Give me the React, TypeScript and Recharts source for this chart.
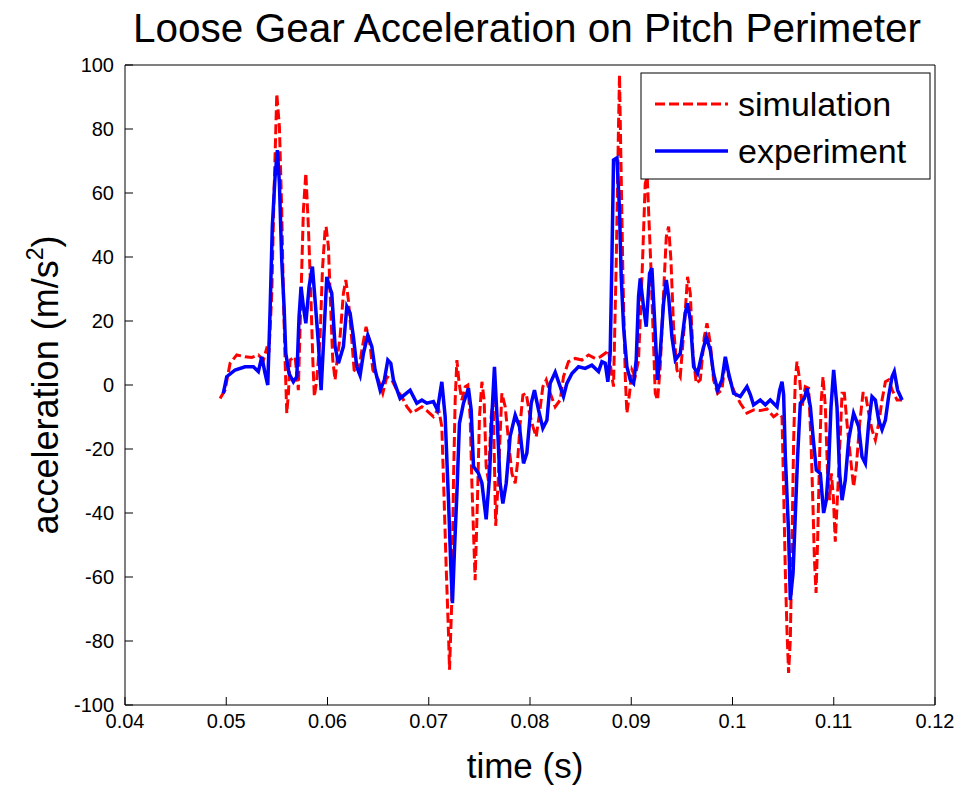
import { LineChart, Line, XAxis, YAxis } from 'recharts';

// simulation (red dashed), time in s, acceleration in m/s^2
const simT = [
  0.04939, 0.04988, 0.05038, 0.05104, 0.05186, 0.05252, 0.05317, 0.05367, 0.054, 0.05423,
  0.0545, 0.05472, 0.05499, 0.05525, 0.05548, 0.05564, 0.05581, 0.05598, 0.05614, 0.0563,
  0.0568, 0.05712, 0.05739, 0.05762, 0.05786, 0.05811, 0.05835, 0.05855, 0.0587, 0.05894,
  0.05927, 0.0595, 0.05976, 0.05986, 0.06009, 0.06026, 0.06052, 0.06075, 0.06098, 0.06124,
  0.06157, 0.06181, 0.06206, 0.0624, 0.06263, 0.06305, 0.06339, 0.06381, 0.06414, 0.06448,
  0.06503, 0.06546, 0.06586, 0.06635, 0.06685, 0.06734, 0.06784, 0.06833, 0.06882, 0.06932,
  0.06981, 0.07046, 0.07096, 0.07129, 0.07152, 0.07172, 0.07195, 0.07205, 0.07228, 0.07244,
  0.07261, 0.07278, 0.073, 0.07327, 0.0736, 0.07386, 0.07409, 0.07426, 0.07448, 0.07458,
  0.07481, 0.07501, 0.07525, 0.07547, 0.07567, 0.0759, 0.07616, 0.07636, 0.07661, 0.07686,
  0.07722, 0.07755, 0.07787, 0.07821, 0.07854, 0.07876, 0.07903, 0.0793, 0.07962, 0.07995,
  0.08029, 0.08061, 0.08094, 0.08127, 0.0816, 0.08199, 0.08249, 0.08298, 0.08331, 0.0838,
  0.08446, 0.08513, 0.08578, 0.08644, 0.08694, 0.08743, 0.08776, 0.08809, 0.08825, 0.08852,
  0.08874, 0.08884, 0.08898, 0.08918, 0.08941, 0.08957, 0.08983, 0.09007, 0.09039, 0.09072,
  0.09106, 0.09138, 0.09158, 0.09171, 0.09194, 0.09214, 0.09237, 0.0926, 0.09286, 0.09319,
  0.09346, 0.09369, 0.09392, 0.09418, 0.09451, 0.09484, 0.09523, 0.09556, 0.09583, 0.09609,
  0.09642, 0.09682, 0.09721, 0.09748, 0.09781, 0.09813, 0.09853, 0.09896, 0.09929, 0.09962,
  0.10011, 0.10077, 0.10143, 0.10208, 0.10274, 0.10341, 0.10406, 0.10455, 0.10489, 0.10505,
  0.10522, 0.10538, 0.10554, 0.10571, 0.10588, 0.10604, 0.1062, 0.10637, 0.10663, 0.10687,
  0.10719, 0.10752, 0.10775, 0.10795, 0.10808, 0.10825, 0.10841, 0.1086, 0.10877, 0.10894,
  0.10917, 0.10939, 0.10959, 0.10976, 0.10996, 0.11015, 0.11048, 0.11082, 0.11105, 0.11131,
  0.11164, 0.11196, 0.11223, 0.11256, 0.11289, 0.11312, 0.11345, 0.11378, 0.11411, 0.11444,
  0.11477, 0.1151, 0.11542, 0.11576, 0.11625, 0.11675,
];
const simA = [
  -4.2, -1.6, 6.8, 9.4, 8.8, 8.6, 9.4, 7.8, 11.5, 11,
  28.6, 59.9, 91, 80.7, 54.7, 28.6, 7.8, -8.8, -2.6, 7.8,
  8.8, -1.6, 28.6, 54.7, 66.2, 49.5, 28.6, 7.8, -3.6, 1.6,
  15, 36, 48.4, 49.5, 43.2, 28.6, 7.8, 1.6, 8.8, 15,
  28.6, 32.8, 26.6, 14, 4.7, 3.6, 10.9, 18.2, 14, 4.7,
  1.6, -2.6, 2.6, 1.6, -1.6, -3.6, -6.8, -8.8, -7.8, -6.8,
  -8, -9.9, -7.3, -13, -36, -56.8, -77.6, -89, -67.2, -30.7,
  -4.7, 7.8, 0.5, -4.7, -0.5, 0, -9.9, -30.7, -51.6, -61,
  -36, -9.9, 1, -4.7, -25.5, -30, -10, -5, -44, -30,
  -2.6, -6.8, -17.2, -27.6, -30.7, -24.5, -12, -3.1, -2.6, -8.8,
  -13, -16.2, -8.8, -0.5, 1.6, -2.5, -6.8, -4.7, 2.6, 7.3,
  8.3, 7.8, 9.4, 8.3, 8.8, 9.9, 10.9, 2.6, -0.5, 39,
  80.7, 96.9, 70.3, 33.8, 2.6, -8.8, -2.6, 4.7, 2.6, 7.8,
  33.8, 63, 65, 54.7, 37, 18.2, -2.6, -4.7, 5.7, 28.6,
  46.3, 49.5, 39, 18.2, 4.7, 2.6, 18.2, 33.8, 28.6, 9.9,
  0.5, 1.6, 15, 19.3, 13, 1.6, -2.6, -1.5, 7.8, 2.6,
  -1.6, -5.7, -8.8, -7.8, -8, -7.5, -9.9, -8.8, -10, -32.8,
  -58.8, -76.6, -90, -79.7, -48.4, -17.2, 1.6, 7.3, 1.6, -6.8,
  -0.5, -1, -17.2, -38, -53.6, -65, -48.4, -22.4, -4.7, 2.6,
  -6.8, -27.6, -36, -27.6, -35, -49, -27.6, -2.6, -2.6, -12,
  -22.4, -31.8, -25.5, -12, -2.6, -2.6, -8.8, -14, -17.2, -12,
  -4.7, 1, 1.6, -1.5, -4.7, -4.7,
];

// experiment (blue solid)
const expT = [
  0.04971, 0.05005, 0.05087, 0.05186, 0.05268, 0.05317, 0.05351, 0.05383, 0.0541, 0.05433,
  0.05455, 0.05482, 0.05505, 0.05525, 0.05548, 0.05571, 0.05588, 0.0562, 0.05663, 0.05697,
  0.05719, 0.05739, 0.05762, 0.05786, 0.05818, 0.05851, 0.05877, 0.0591, 0.05937, 0.05959,
  0.05993, 0.06016, 0.06042, 0.06075, 0.06108, 0.06157, 0.06191, 0.06223, 0.06256, 0.06289,
  0.06322, 0.06355, 0.06398, 0.06438, 0.0647, 0.0652, 0.06562, 0.06596, 0.06625, 0.06651,
  0.06717, 0.06816, 0.06882, 0.06932, 0.06981, 0.07046, 0.07086, 0.07129, 0.07162, 0.07195,
  0.07218, 0.07234, 0.07254, 0.07278, 0.07303, 0.07343, 0.07392, 0.07419, 0.07442, 0.07491,
  0.07525, 0.07567, 0.076, 0.07623, 0.07649, 0.07679, 0.07705, 0.07732, 0.07765, 0.07804,
  0.07854, 0.07896, 0.07936, 0.07969, 0.08012, 0.08044, 0.08084, 0.08127, 0.08167, 0.08199,
  0.08249, 0.08298, 0.08331, 0.08364, 0.08414, 0.08479, 0.08545, 0.08611, 0.08677, 0.0871,
  0.08743, 0.08769, 0.08792, 0.08809, 0.08825, 0.08859, 0.08884, 0.08901, 0.08924, 0.08957,
  0.0899, 0.09023, 0.09049, 0.09072, 0.09089, 0.09121, 0.09148, 0.09181, 0.09204, 0.09227,
  0.0926, 0.09286, 0.09319, 0.09346, 0.09369, 0.09402, 0.09435, 0.09484, 0.09533, 0.09556,
  0.09583, 0.09616, 0.09655, 0.09699, 0.09741, 0.09781, 0.09813, 0.09853, 0.09896, 0.09929,
  0.09962, 0.10011, 0.10077, 0.10143, 0.10176, 0.10208, 0.10274, 0.10324, 0.10373, 0.1044,
  0.10466, 0.10489, 0.10505, 0.10522, 0.10554, 0.10571, 0.10598, 0.1062, 0.10643, 0.1067,
  0.10709, 0.10736, 0.10769, 0.10795, 0.10828, 0.10867, 0.109, 0.10926, 0.10949, 0.10973,
  0.10999, 0.11032, 0.11058, 0.11082, 0.11114, 0.11147, 0.11196, 0.11246, 0.11279, 0.11312,
  0.11345, 0.11378, 0.11411, 0.11444, 0.11477, 0.1151, 0.11542, 0.11576, 0.11598, 0.11631,
  0.11675,
];
const expA = [
  -2.6, 2.6, 4.7, 5.7, 5.7, 4.2, 8.8, 3.7, 0, 23.4,
  49.5, 65, 73.4, 63, 39, 24.5, 9.9, 3.6, 1, 2.6,
  21.3, 30.7, 24.5, 19.3, 30.7, 37, 26.6, 13, -1.6, 12,
  33.8, 31, 28.7, 12, 6.8, 12, 24.5, 22.5, 15, 5.7,
  3, 9.9, 15.6, 12, 4.7, -1.6, 1.6, 7.8, 6.8, 1.6,
  -4.2, -1.6, -5.7, -4.7, -5.7, -5.2, -7.8, 1, -9.9, -36,
  -56.8, -68.2, -51.6, -33.8, -12, -5.7, -1, -7.8, -25.5, -27.6,
  -30.7, -42, -28.7, -9.9, 5.7, -13, -30.7, -37, -30.7, -16,
  -9.4, -13, -24.5, -21.3, -5.7, -1.6, -7.8, -13.5, -11, 0.5,
  4, -0.5, -3.6, 0.5, 3.6, 5.7, 5.2, 6.2, 4.2, 7.3,
  6.8, 1, 9.9, 39, 70.3, 71, 54.7, 33.8, 18.2, 5.7,
  1.6, 0.5, 7.8, 27.6, 33.3, 24.5, 18.2, 34.9, 36.5, 22.4,
  1.6, 9.9, 25.5, 32.8, 27.6, 15, 7.8, 9.9, 22.4, 25.5,
  20.3, 5.7, 3.6, 9.9, 15, 10.9, 3.6, -1.6, 1.6, 8.8,
  3.6, -2.6, -3.6, -0.5, -3, -6.2, -4.7, -6.2, -4.7, -6.8,
  -1.6, 1, -3, -22.4, -46.3, -67.2, -58.8, -41, -22.4, -5.7,
  -4.2, -1, -6.8, -16, -26.6, -27.6, -40, -36, -25.5, -6.8,
  4.7, -6.8, -27.6, -36, -29.7, -17.2, -8.8, -13, -22.4, -24.5,
  -12, -3.6, -4.7, -11, -14, -11, -3.6, 2.6, 4.2, -1.6,
  -4.7,
];

const xTicks = [0.04, 0.05, 0.06, 0.07, 0.08, 0.09, 0.1, 0.11, 0.12];
const yTicks = [-100, -80, -60, -40, -20, 0, 20, 40, 60, 80, 100];

const simData = simT.map((t, i) => ({ t, a: simA[i] }));
const expData = expT.map((t, i) => ({ t, a: expA[i] }));

const FONT = '"Liberation Sans", Arial, Helvetica, sans-serif';
const RED = '#ff0000';
const BLUE = '#0000ff';
const fmtX = (v: number) => String(Number(v.toFixed(2)));
const tickStyle = { fill: '#000', fontSize: 20, fontFamily: FONT };
const axisLine = { stroke: '#000', strokeWidth: 1 };

export default function App() {
  return (
    <div style={{ position: 'relative', width: 965, height: 791, background: '#fff', fontFamily: FONT }}>
      <style>{`body{margin:0}`}</style>
      {/* axes get 1px so CartesianAxis actually renders; ticks point inward like matlab */}
      <LineChart width={965} height={791} margin={{ top: 64, right: 29, bottom: 85, left: 124 }}>
        <XAxis xAxisId="b" dataKey="t" type="number" domain={[0.04, 0.12]} ticks={xTicks} tickFormatter={fmtX}
          height={1} tickSize={-8} tickMargin={17} tick={tickStyle} axisLine={axisLine} tickLine={axisLine} />
        <XAxis xAxisId="top" orientation="top" dataKey="t" type="number" domain={[0.04, 0.12]} ticks={xTicks}
          tickFormatter={() => ''} height={1} tickSize={-8} axisLine={axisLine} tickLine={axisLine} />
        <YAxis yAxisId="l" type="number" domain={[-100, 100]} ticks={yTicks} width={1} tickSize={-8} tickMargin={19}
          tick={tickStyle} axisLine={axisLine} tickLine={axisLine} />
        <YAxis yAxisId="r" orientation="right" type="number" domain={[-100, 100]} ticks={yTicks} width={1}
          tickSize={-8} tickFormatter={() => ''} axisLine={axisLine} tickLine={axisLine} />
        <Line xAxisId="b" yAxisId="l" data={simData} dataKey="a" type="linear" stroke={RED} strokeWidth={3}
          strokeDasharray="10 4" dot={false} isAnimationActive={false} />
        <Line xAxisId="b" yAxisId="l" data={expData} dataKey="a" type="linear" stroke={BLUE} strokeWidth={3.5}
          dot={false} isAnimationActive={false} />
      </LineChart>
      <svg width={965} height={791} style={{ position: 'absolute', left: 0, top: 0, pointerEvents: 'none' }}>
        <text x={527} y={42} textAnchor="middle" fontSize={40.5} fontFamily={FONT} fill="#000">
          Loose Gear Acceleration on Pitch Perimeter
        </text>
        <text x={525} y={778} textAnchor="middle" fontSize={35} fontFamily={FONT} fill="#000">time (s)</text>
        <text transform="translate(58,385) rotate(-90)" textAnchor="middle" fontSize={36} fontFamily={FONT} fill="#000">
          acceleration (m/s<tspan dy={-15} fontSize={23}>2</tspan><tspan dy={15}>)</tspan>
        </text>
        <g>
          <rect x={641} y={73} width={289} height={106} fill="#fff" stroke="#000" strokeWidth={1} />
          <line x1={655} y1={104} x2={728} y2={104} stroke={RED} strokeWidth={3} strokeDasharray="10 4" />
          <text x={738} y={116} fontSize={34} fontFamily={FONT} fill="#000">simulation</text>
          <line x1={655} y1={151} x2={728} y2={151} stroke={BLUE} strokeWidth={3.5} />
          <text x={738} y={163} fontSize={34} fontFamily={FONT} fill="#000">experiment</text>
        </g>
      </svg>
    </div>
  );
}
